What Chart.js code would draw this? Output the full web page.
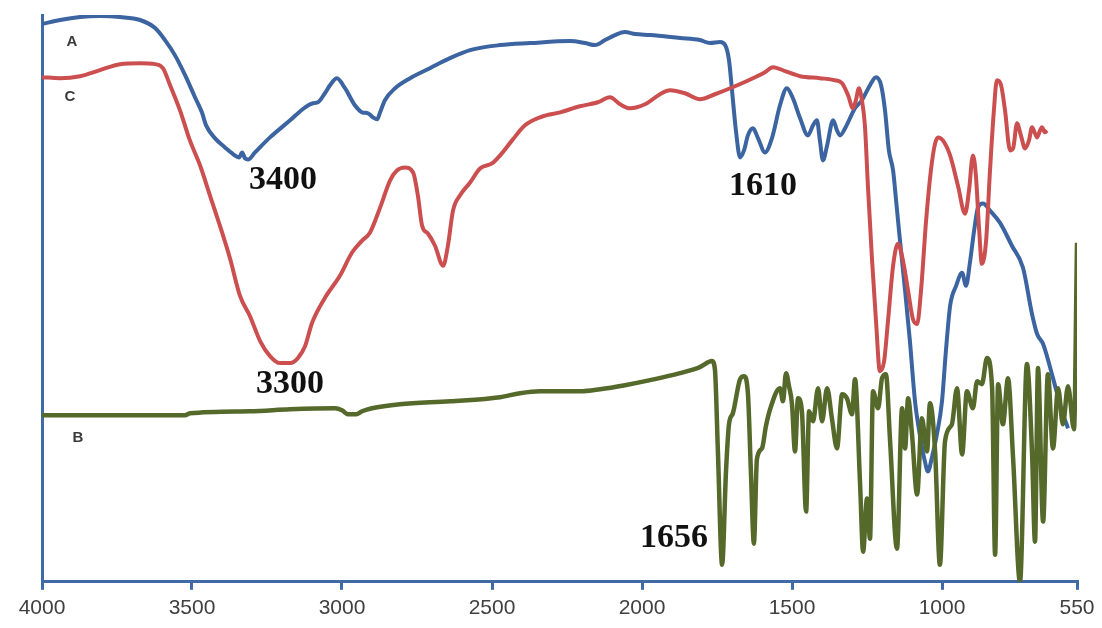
<!DOCTYPE html>
<html>
<head>
<meta charset="utf-8">
<script src="https://cdn.jsdelivr.net/npm/chart.js@4/dist/chart.umd.min.js"></script>
<style>
  html, body { margin: 0; padding: 0; background: #ffffff; }
  #wrap { width: 1102px; height: 628px; }
</style>
</head>
<body>
<div id="wrap"><canvas id="ir" width="1102" height="628"></canvas></div>
<script>
// FTIR spectra: wavenumber (cm-1) and relative transmittance for samples A, B, C
const xTicks = [4000, 3500, 3000, 2500, 2000, 1500, 1000, 550];

const aWn = [4000,3940,3873,3807,3740,3673,3623,3590,3557,3523,3490,3467,3453,3423,3390,3357,3343,3333,3323,3313,3290,3240,3173,3123,3097,3080,3057,3040,3017,2990,2957,2933,2913,2897,2883,2873,2857,2823,2773,2707,2640,2573,2473,2373,2240,2190,2157,2123,2090,2057,2023,1973,1873,1807,1773,1740,1723,1710,1700,1687,1673,1660,1647,1630,1613,1590,1567,1540,1517,1497,1473,1447,1430,1417,1407,1397,1383,1363,1350,1340,1323,1307,1290,1267,1240,1220,1203,1190,1177,1163,1153,1140,1123,1107,1090,1073,1057,1047,1033,1017,1000,987,973,953,933,920,907,893,880,863,840,807,767,730,700,683,663,630,600,580];
const aT  = [111.2,112,112.6,112.8,112.6,112,110.4,108,105,101,96.6,93.6,91,88.4,86.6,85,84.6,85.6,84.4,84.2,85.6,88.6,92,94.6,95.4,95.6,97.4,99,100.4,98.4,95,93.6,93.4,92.6,92.2,93.6,96,98.4,100.4,102.4,104.4,106,107,107.4,107.8,107.4,107,108,109,109.6,109.2,109,108.4,108,107.4,107.6,107,104,98,90,84.6,86,89,90.4,88.4,85.6,88.4,95,98.4,96.4,92.4,89,91,92,88,84,87,92,90,89,90.4,92.4,94.4,96,99,100.6,99,94,86,82,76,68,58,48,36,29,24,22,25,29.4,36,46,55,59,61.6,59,63.6,70,74.6,75.4,74,71.6,67,62.6,53.4,49.4,47.4,40.6,34,30.6];

const cWn = [4000,3940,3873,3807,3740,3673,3623,3597,3573,3540,3507,3473,3440,3407,3373,3340,3307,3273,3240,3207,3173,3147,3123,3100,3057,3007,2967,2933,2907,2873,2840,2817,2790,2763,2747,2733,2713,2690,2663,2647,2630,2607,2573,2540,2500,2473,2433,2390,2340,2273,2207,2147,2107,2073,2040,1990,1940,1907,1857,1807,1757,1690,1623,1590,1563,1523,1473,1407,1357,1333,1313,1297,1287,1277,1267,1257,1247,1233,1220,1207,1193,1180,1163,1147,1130,1113,1097,1083,1070,1053,1037,1023,1013,997,973,947,923,910,897,887,877,867,853,840,827,817,803,790,773,763,750,737,723,710,700,690,683,673,667,657,650];
const cT  = [100.6,100.4,100.8,102,103.2,103.4,103.2,102.4,99,94,88,83,77,71,64.4,57,53,48,45,43.6,43.6,44.6,47,51.6,56.6,61,65.6,68,69.6,74.6,80,82,82.6,81.6,77,71,69.4,67,63,67,74,77,79.6,82.4,83.4,85,88,91,92.6,93.6,94.8,95.6,96.6,95.2,94.4,95.2,97.2,98,97.4,96.2,97.2,98.8,100.6,101.6,102.6,101.8,100.8,100.4,100,99.4,97,94.4,96,98.4,96,91,79,64,52,42,44,52,63,67.4,64,58,52.4,51.4,58,72,82,87.4,88.6,88,85,79,73.4,78,85,81,71,63.4,68,82,94,100,99,94,86,86.4,91.4,89,86.4,88,90.6,89.4,88.6,90,90.6,89.6,90];

const bWn = [4000,3807,3523,3507,3307,3173,3023,3000,2980,2953,2933,2900,2807,2640,2473,2407,2340,2207,2140,2057,1973,1873,1807,1767,1757,1747,1733,1720,1710,1697,1673,1660,1647,1637,1627,1617,1600,1587,1573,1540,1530,1520,1510,1500,1490,1480,1467,1453,1443,1430,1413,1400,1383,1367,1350,1333,1317,1300,1290,1273,1263,1250,1240,1230,1213,1200,1187,1173,1150,1133,1123,1113,1100,1083,1067,1050,1040,1023,1007,990,967,950,933,917,897,883,867,850,833,823,813,797,780,763,740,717,700,690,680,663,647,630,613,597,580,560,550];
const bT  = [33.2,33.2,33.2,33.6,34,34.4,34.6,34.2,33.4,33.4,34,34.6,35.4,36,36.8,37.6,38,38,38.4,39.2,40.2,41.6,42.8,44,42.4,26,3.4,22,31.4,33.6,40.4,41,37.6,22,7.6,24.4,26.6,31,34.4,38.6,36,41.6,39,35.4,26,36.6,34,14,34,32,38.6,32,38.6,32.6,26.6,37.4,36.6,33.4,40.4,19.4,6,16.6,8.6,38,34.6,40.6,41.4,28,6.6,34.6,26.6,36.6,29.4,17.4,32.6,26,35.6,26,3.4,28,31.4,38.6,25.4,38,34.6,40,39.4,44.6,38.6,5.4,39.4,31.4,40.6,24.6,0,43.4,26,8,42.6,12,41.4,26.6,38.6,31.4,39,30.4,67.6];

// Band assignments written on the plot: [text, wavenumber, transmittance]
const bandText = ['3400', '1610', '3300', '1656'];
const bandWn   = [3197, 1597, 3173, 1893];
const bandT    = [80, 78.8, 39.4, 8.6];

// Sample letters beside each trace
const sampleText = ['A', 'C', 'B'];
const sampleWn   = [3900, 3907, 3880];
const sampleT    = [107.6, 96.6, 28.6];

const axisBlue = '#4169a6';

function pairs(xs, ys) { return xs.map((x, i) => ({ x: x, y: ys[i] })); }

const annotate = {
  id: 'annotate',
  afterDatasetsDraw(chart) {
    const { ctx, scales } = chart;
    ctx.save();
    ctx.textAlign = 'center';
    ctx.textBaseline = 'middle';
    ctx.fillStyle = '#111111';
    ctx.font = 'bold 34px "Liberation Serif", "Times New Roman", serif';
    bandText.forEach((t, i) => {
      ctx.fillText(t, scales.x.getPixelForValue(bandWn[i]), scales.y.getPixelForValue(bandT[i]));
    });
    ctx.fillStyle = '#3a3a3a';
    ctx.font = 'bold 15px "Liberation Sans", Arial, sans-serif';
    sampleText.forEach((t, i) => {
      ctx.fillText(t, scales.x.getPixelForValue(sampleWn[i]), scales.y.getPixelForValue(sampleT[i]));
    });
    ctx.restore();
  }
};

const common = { borderWidth: 4, pointRadius: 0, fill: false, cubicInterpolationMode: 'monotone' };

new Chart(document.getElementById('ir'), {
  type: 'line',
  data: {
    datasets: [
      Object.assign({ label: 'B', data: pairs(bWn, bT), borderColor: '#55692b', order: 0 }, common, { borderWidth: 4.5 }),
      Object.assign({ label: 'C', data: pairs(cWn, cT), borderColor: '#cc4f50', order: 1 }, common),
      Object.assign({ label: 'A', data: pairs(aWn, aT), borderColor: '#3b64a0', order: 2 }, common)
    ]
  },
  options: {
    responsive: false,
    animation: false,
    layout: { padding: { left: 42, right: 25, top: 15, bottom: 1 } },
    plugins: { legend: { display: false }, tooltip: { enabled: false } },
    scales: {
      x: {
        type: 'linear',
        reverse: true,
        min: 550,
        max: 4000,
        afterBuildTicks(axis) { axis.ticks = xTicks.map(v => ({ value: v })); },
        grid: { display: true, drawOnChartArea: false, drawTicks: true, tickLength: 8, color: axisBlue, lineWidth: 3 },
        border: { display: true, color: axisBlue, width: 3 },
        ticks: {
          color: '#404040',
          padding: 6,
          maxRotation: 0,
          autoSkip: false,
          callback: v => String(v),
          font: { family: '"Liberation Sans", Arial, sans-serif', size: 21 }
        }
      },
      y: {
        min: 0,
        max: 113,
        grid: { display: false, drawTicks: false },
        border: { display: true, color: axisBlue, width: 3 },
        ticks: { display: false }
      }
    }
  },
  plugins: [annotate]
});
</script>
</body>
</html>
